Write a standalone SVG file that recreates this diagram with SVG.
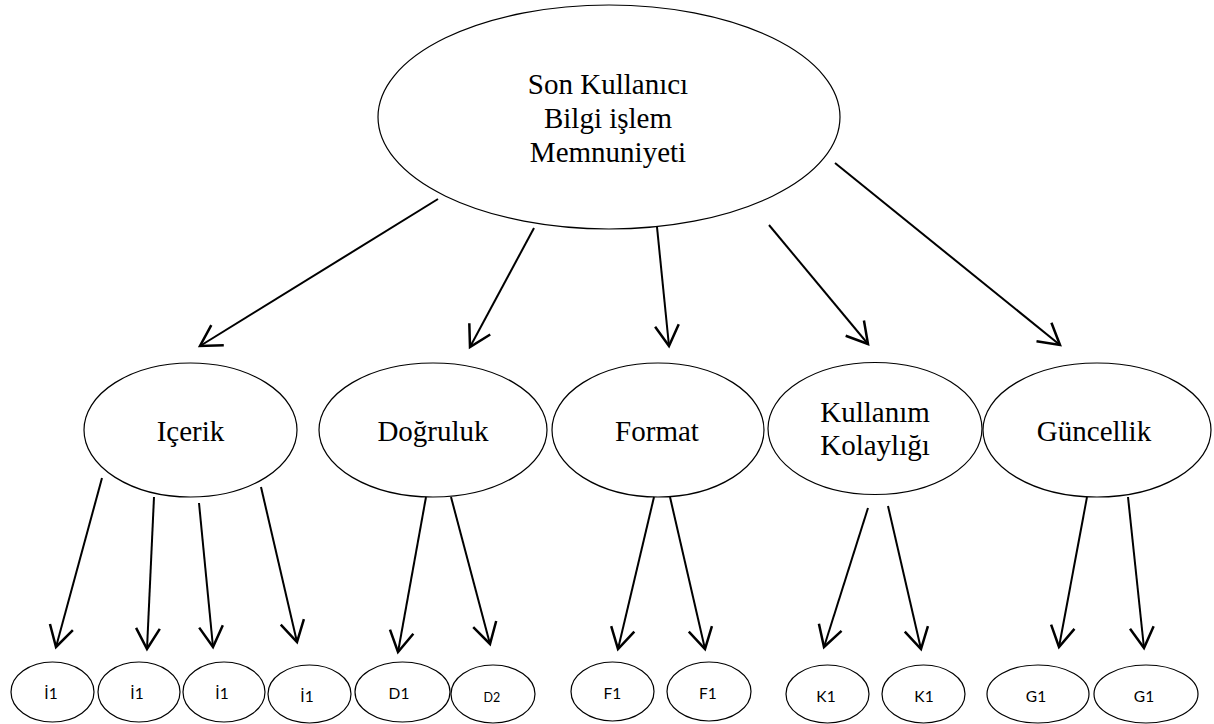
<svg xmlns="http://www.w3.org/2000/svg" width="1214" height="724" viewBox="0 0 1214 724">
<defs>
<style>
.n ellipse{fill:#fff;stroke:#000;stroke-width:1.2}
.t{font-family:"Liberation Serif","Times New Roman",serif;font-size:29px;fill:#000;text-anchor:middle}
.s{font-family:Lato,"Open Sans","Liberation Sans",sans-serif;font-size:15.5px;fill:#000;text-anchor:middle}
#edges line{stroke:#000;stroke-width:2;fill:none;marker-end:url(#ah)}
</style>
<marker id="ah" markerUnits="userSpaceOnUse" markerWidth="30" markerHeight="30" refX="0" refY="0" viewBox="-20 -12 22 24" orient="auto" overflow="visible">
<path d="M-16.5,-9.5 L0,0 L-16.5,9.5" fill="none" stroke="#000" stroke-width="2" stroke-linejoin="miter"/>
</marker>
</defs>
<rect width="1214" height="724" fill="#fff"/>

<g id="root" class="n">
<ellipse cx="609" cy="117" rx="231" ry="112"/>
<text class="t" x="608" y="94">Son Kullanıcı</text>
<text class="t" x="608" y="128">Bilgi işlem</text>
<text class="t" x="608" y="162">Memnuniyeti</text>
</g>

<g id="icerik" class="n"><ellipse cx="190.5" cy="430" rx="106.5" ry="67"/><text class="t" x="190.5" y="441">Içerik</text></g>
<g id="dogruluk" class="n"><ellipse cx="433" cy="430" rx="114" ry="67"/><text class="t" x="433" y="441">Doğruluk</text></g>
<g id="format" class="n"><ellipse cx="658" cy="430" rx="106" ry="67"/><text class="t" x="657" y="441">Format</text></g>
<g id="kullanim" class="n"><ellipse cx="875" cy="428.5" rx="107" ry="66"/><text class="t" x="875" y="422">Kullanım</text><text class="t" x="875" y="455">Kolaylığı</text></g>
<g id="guncellik" class="n"><ellipse cx="1097" cy="430" rx="114" ry="67"/><text class="t" x="1094" y="441">Güncellik</text></g>

<g id="i1a" class="n"><ellipse cx="52.5" cy="692" rx="41.5" ry="30"/><text class="s" x="51" y="699">İ1</text></g>
<g id="i1b" class="n"><ellipse cx="139" cy="692" rx="41" ry="30"/><text class="s" x="137" y="699">İ1</text></g>
<g id="i1c" class="n"><ellipse cx="224" cy="692" rx="41" ry="30"/><text class="s" x="222" y="699">İ1</text></g>
<g id="i1d" class="n"><ellipse cx="309.5" cy="694" rx="41.5" ry="29"/><text class="s" x="307" y="702">İ1</text></g>
<g id="d1" class="n"><ellipse cx="402.5" cy="692" rx="47.5" ry="30"/><text class="s" x="399" y="699">D1</text></g>
<g id="d2" class="n"><ellipse cx="493" cy="694" rx="42" ry="29"/><text class="s" x="492" y="702" style="font-size:12.5px">D2</text></g>
<g id="f1a" class="n"><ellipse cx="612.5" cy="691.5" rx="41.5" ry="29.5"/><text class="s" x="612.5" y="699">F1</text></g>
<g id="f1b" class="n"><ellipse cx="709" cy="691.5" rx="42" ry="29.5"/><text class="s" x="708" y="699">F1</text></g>
<g id="k1a" class="n"><ellipse cx="827.5" cy="694" rx="41.5" ry="29"/><text class="s" x="826" y="702">K1</text></g>
<g id="k1b" class="n"><ellipse cx="923.5" cy="694" rx="41.5" ry="29"/><text class="s" x="924" y="702">K1</text></g>
<g id="g1a" class="n"><ellipse cx="1038" cy="694" rx="51" ry="29"/><text class="s" x="1036" y="702">G1</text></g>
<g id="g1b" class="n"><ellipse cx="1146" cy="694" rx="52" ry="29"/><text class="s" x="1144" y="702">G1</text></g>

<g id="edges">
<line x1="438" y1="199" x2="200" y2="346"/>
<line x1="534" y1="228" x2="470" y2="347"/>
<line x1="657" y1="227" x2="669" y2="346"/>
<line x1="769" y1="225" x2="868" y2="344"/>
<line x1="835" y1="163" x2="1060" y2="345"/>

<line x1="102" y1="478" x2="56" y2="647"/>
<line x1="154" y1="497" x2="147" y2="649"/>
<line x1="199" y1="503" x2="213" y2="647"/>
<line x1="261" y1="487" x2="297" y2="642"/>
<line x1="426" y1="497" x2="398" y2="652"/>
<line x1="451" y1="497" x2="490" y2="644"/>
<line x1="654" y1="497" x2="618" y2="649"/>
<line x1="670" y1="497" x2="705" y2="649"/>
<line x1="868" y1="508" x2="824" y2="647"/>
<line x1="888" y1="506" x2="921" y2="649"/>
<line x1="1087" y1="497" x2="1059" y2="647"/>
<line x1="1128" y1="497" x2="1144" y2="648"/>
</g>
</svg>
